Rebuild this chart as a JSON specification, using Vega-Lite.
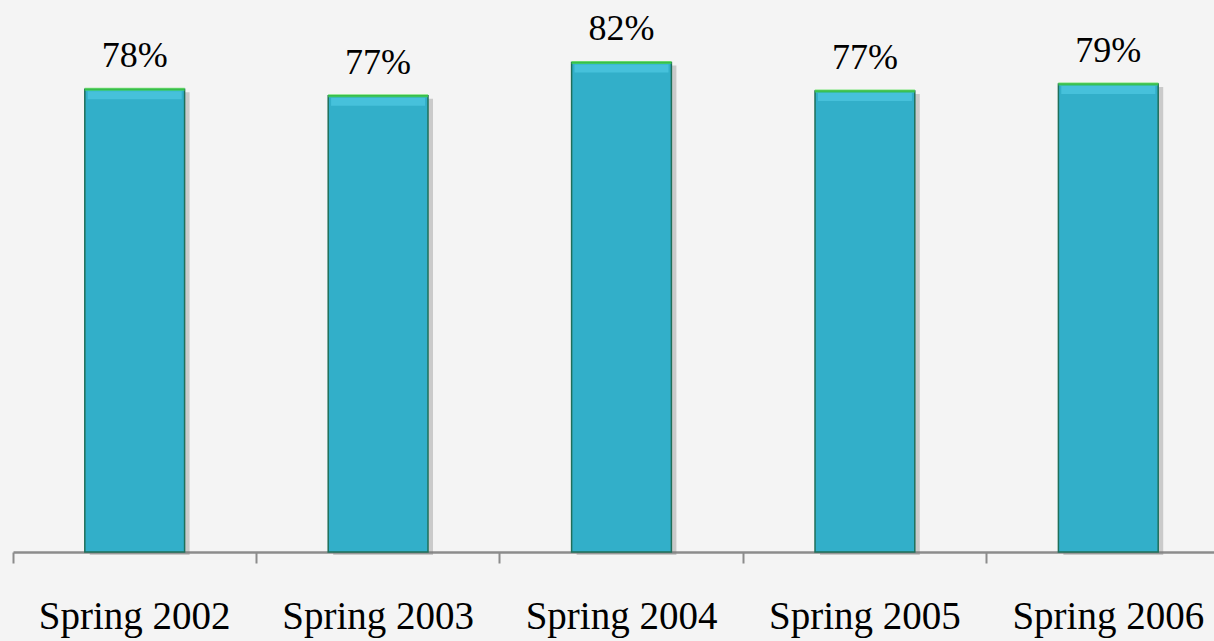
{
  "$schema": "https://vega.github.io/schema/vega-lite/v6.json",
  "width": 1217,
  "height": 536,
  "autosize": {"type": "none"},
  "padding": {"left": 13, "top": 16, "right": 0, "bottom": 89},
  "background": "#f4f4f4",
  "config": {
    "view": {"stroke": null},
    "font": "Liberation Serif"
  },
  "data": {
    "values": [
      {"term": "Spring 2002", "rate": 0.777},
      {"term": "Spring 2003", "rate": 0.766},
      {"term": "Spring 2004", "rate": 0.822},
      {"term": "Spring 2005", "rate": 0.774},
      {"term": "Spring 2006", "rate": 0.786}
    ]
  },
  "encoding": {
    "x": {
      "field": "term",
      "type": "nominal",
      "sort": null,
      "scale": {"paddingInner": 0, "paddingOuter": 0},
      "axis": {
        "title": null,
        "labelAngle": 0,
        "labelFont": "Liberation Serif",
        "labelFontSize": 39,
        "labelColor": "#000000",
        "labelBaseline": "alphabetic",
        "labelPadding": 65,
        "labelLimit": 0,
        "bandPosition": 0,
        "tickSize": 11,
        "tickWidth": 2,
        "tickColor": "#8c8c8c",
        "domainColor": "#8c8c8c",
        "domainWidth": 2.5,
        "grid": false
      }
    },
    "y": {
      "field": "rate",
      "type": "quantitative",
      "scale": {"domain": [0, 0.9]},
      "axis": null
    }
  },
  "layer": [
    {
      "mark": {"type": "bar", "width": {"band": 0.41}, "fill": "#7a7a7a", "opacity": 0.35, "xOffset": 5, "yOffset": 3}
    },
    {
      "mark": {"type": "bar", "width": {"band": 0.41}, "fill": "#32afc9", "stroke": "#1f6f5a", "strokeWidth": 1.5}
    },
    {
      "mark": {"type": "tick", "size": 94, "thickness": 8, "color": "#4fc9e3", "yOffset": 6}
    },
    {
      "mark": {"type": "tick", "size": 100, "thickness": 3, "color": "#44dd44"}
    },
    {
      "mark": {"type": "text", "font": "Liberation Serif", "fontSize": 36, "baseline": "alphabetic", "dy": -22, "color": "#000000"},
      "encoding": {
        "text": {"field": "rate", "type": "quantitative", "format": ".0%"}
      }
    }
  ]
}
